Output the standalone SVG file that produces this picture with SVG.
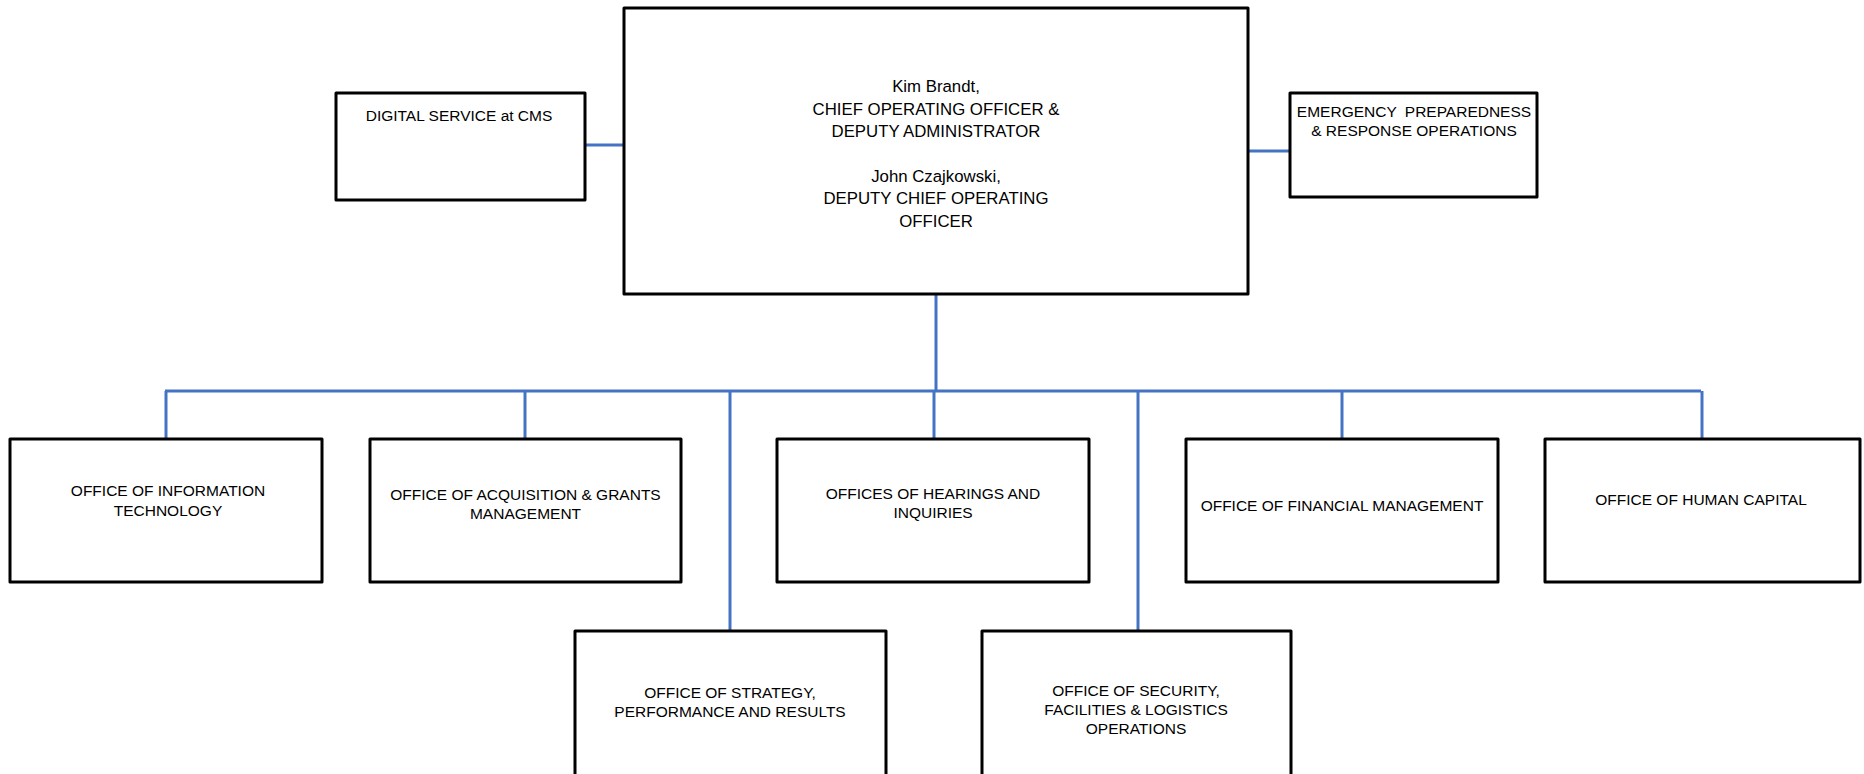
<svg xmlns="http://www.w3.org/2000/svg" width="1864" height="774" viewBox="0 0 1864 774">
<style>
.box{fill:#fff;stroke:#000;stroke-width:3;stroke-linejoin:round}
.t{font-family:"Liberation Sans",Arial,sans-serif;font-size:15.5px;fill:#000;text-anchor:middle}
.tm{font-family:"Liberation Sans",Arial,sans-serif;font-size:16.8px;fill:#000;text-anchor:middle}
.c{fill:none;stroke:#4472C4;stroke-width:3}
</style>
<rect width="1864" height="774" fill="#fff"/>
<g id="connectors">
<line class="c" x1="585" y1="145" x2="624" y2="145"/>
<line class="c" x1="1248" y1="151" x2="1290" y2="151"/>
<line class="c" x1="936" y1="294" x2="936" y2="391"/>
<line class="c" x1="165" y1="391" x2="1701" y2="391"/>
<line class="c" x1="166" y1="391" x2="166" y2="439"/>
<line class="c" x1="525" y1="391" x2="525" y2="439"/>
<line class="c" x1="730" y1="391" x2="730" y2="631"/>
<line class="c" x1="934" y1="391" x2="934" y2="439"/>
<line class="c" x1="1138" y1="391" x2="1138" y2="631"/>
<line class="c" x1="1342" y1="391" x2="1342" y2="439"/>
<line class="c" x1="1702" y1="391" x2="1702" y2="439"/>
</g>
<g id="coo">
<rect class="box" x="624" y="8" width="624" height="286"/>
<text class="tm" x="936" y="92">Kim Brandt,</text>
<text class="tm" x="936" y="115">CHIEF OPERATING OFFICER &amp;</text>
<text class="tm" x="936" y="137">DEPUTY ADMINISTRATOR</text>
<text class="tm" x="936" y="182">John Czajkowski,</text>
<text class="tm" x="936" y="204">DEPUTY CHIEF OPERATING</text>
<text class="tm" x="936" y="227">OFFICER</text>
</g>
<g id="digital">
<rect class="box" x="336" y="93" width="249" height="107"/>
<text class="t" x="459" y="120.5">DIGITAL SERVICE at CMS</text>
</g>
<g id="emergency">
<rect class="box" x="1290" y="93" width="247" height="104"/>
<text class="t" x="1414" y="117" word-spacing="4">EMERGENCY PREPAREDNESS</text>
<text class="t" x="1414" y="136">&amp; RESPONSE OPERATIONS</text>
</g>
<g id="oit">
<rect class="box" x="10" y="439" width="312" height="143"/>
<text class="t" x="168" y="496">OFFICE OF INFORMATION</text>
<text class="t" x="168" y="516">TECHNOLOGY</text>
</g>
<g id="oagm">
<rect class="box" x="370" y="439" width="311" height="143"/>
<text class="t" x="525.5" y="500">OFFICE OF ACQUISITION &amp; GRANTS</text>
<text class="t" x="525.5" y="519">MANAGEMENT</text>
</g>
<g id="ohi">
<rect class="box" x="777" y="439" width="312" height="143"/>
<text class="t" x="933" y="499">OFFICES OF HEARINGS AND</text>
<text class="t" x="933" y="518">INQUIRIES</text>
</g>
<g id="ofm">
<rect class="box" x="1186" y="439" width="312" height="143"/>
<text class="t" x="1342" y="511">OFFICE OF FINANCIAL MANAGEMENT</text>
</g>
<g id="ohc">
<rect class="box" x="1545" y="439" width="315" height="143"/>
<text class="t" x="1701" y="505">OFFICE OF HUMAN CAPITAL</text>
</g>
<g id="ospr">
<rect class="box" x="575" y="631" width="311" height="160"/>
<text class="t" x="730" y="698">OFFICE OF STRATEGY,</text>
<text class="t" x="730" y="717">PERFORMANCE AND RESULTS</text>
</g>
<g id="osflo">
<rect class="box" x="982" y="631" width="309" height="160"/>
<text class="t" x="1136" y="696">OFFICE OF SECURITY,</text>
<text class="t" x="1136" y="715">FACILITIES &amp; LOGISTICS</text>
<text class="t" x="1136" y="734">OPERATIONS</text>
</g>
</svg>
